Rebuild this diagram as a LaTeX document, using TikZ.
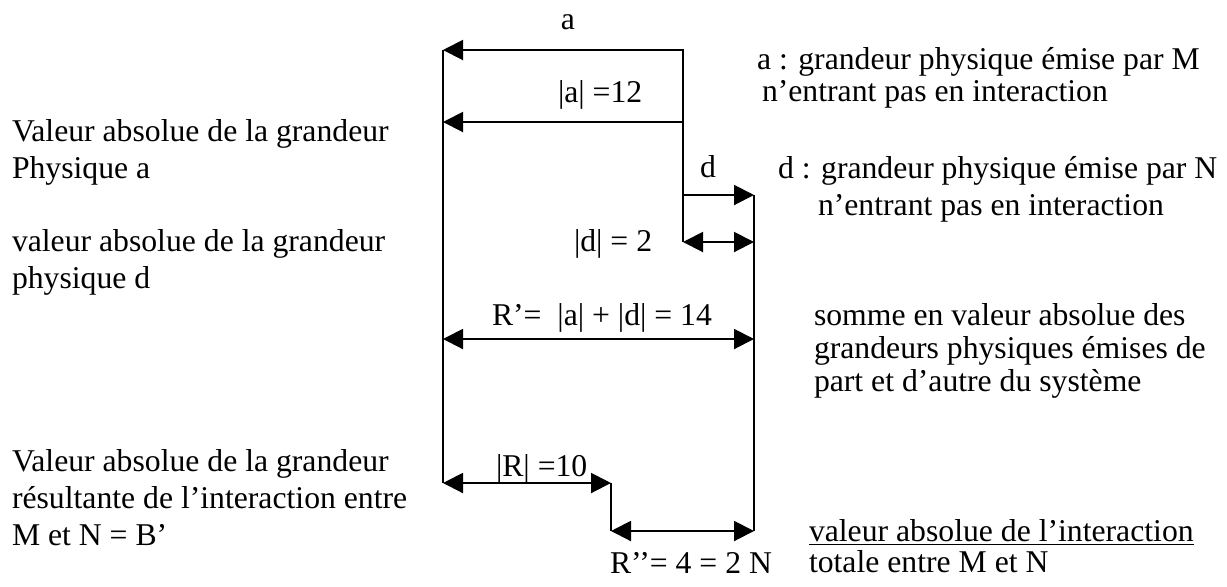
\documentclass[tikz,border=0pt]{standalone}
\usepackage{fontspec}
\setmainfont{Liberation Serif}
\usetikzlibrary{arrows.meta,positioning}

\begin{document}
\begin{tikzpicture}[x=0.5pt,y=-0.5pt,>={Triangle[length=10pt,width=10pt]},line width=1pt,
    font=\fontsize{15.85}{16.5}\selectfont,
    txt/.style={anchor=base west,inner sep=0pt,align=left},
    lbl/.style={anchor=base west,inner sep=0pt}]
  \useasboundingbox (0,0) rectangle (1227,586);
  \coordinate (tl) at (443,50);
  \coordinate (tr) at (683,50);
  \coordinate (ml) at (443,122);
  \coordinate (mr) at (683,122);
  \coordinate (dl) at (683,195);
  \coordinate (dr) at (754,195);
  \coordinate (el) at (683,242);
  \coordinate (er) at (754,242);
  \coordinate (sl) at (443,339);
  \coordinate (sr) at (754,339);
  \coordinate (rl) at (443,483);
  \coordinate (rm) at (611,483);
  \coordinate (ql) at (611,531);
  \coordinate (qr) at (754,531);

  \draw (tl) -- (rl);
  \draw[->] (el) -- (tr) -- (tl);
  \draw[->] (mr) -- (ml);
  \draw[->] (dl) -- (dr);
  \draw (dr) -- (qr);
  \draw[<->] (el) -- (er);
  \draw[<->] (sl) -- (sr);
  \draw[<->] (rl) -- (rm);
  \draw (rm) -- (ql);
  \draw[<->] (ql) -- (qr);

  \node[anchor=base,inner sep=0pt] (la) at (568,29) {a};
  \node[lbl] (labs) at (557,102) {|a| =12};
  \node[anchor=base,inner sep=0pt] (ld) at (708,177) {d};
  \node[lbl] (ldabs) at (573,251) {|d| = 2};
  \node[lbl] (lsum) at (491,325) {R’=\ \ |a| + |d| = 14};
  \node[lbl] (lres) at (495,476) {|R| =10};
  \node[lbl] (ltot) at (609,573) {R’’= 4 = 2 N};

  \node[txt,font=\fontsize{15.85}{18.2}\selectfont] (va) at (11,178) {Valeur absolue de la grandeur\\Physique a};
  \node[txt,font=\fontsize{15.85}{18.2}\selectfont] (vd) at (11,288) {valeur absolue de la grandeur\\physique d};
  \node[txt,font=\fontsize{15.85}{18.3}\selectfont] (vr) at (11,545) {Valeur absolue de la grandeur\\résultante de l’interaction entre\\M et N = B’};

  \node[txt,font=\fontsize{15.85}{16}\selectfont] (ga) at (756,101) {a : grandeur physique émise par M\\\hspace{2.5pt}n’entrant pas en interaction};
  \node[txt,font=\fontsize{15.85}{18.5}\selectfont] (gd) at (777,215) {d : grandeur physique émise par N\\\hspace{20pt}n’entrant pas en interaction};
  \node[txt] (gs) at (813,391) {somme en valeur absolue des\\grandeurs physiques émises de\\part et d’autre du système};
  \node[txt,font=\fontsize{15.85}{15.5}\selectfont] (gt) at (808,572) {\underline{valeur absolue de l’interaction}\\totale entre M et N};
\end{tikzpicture}
\end{document}
